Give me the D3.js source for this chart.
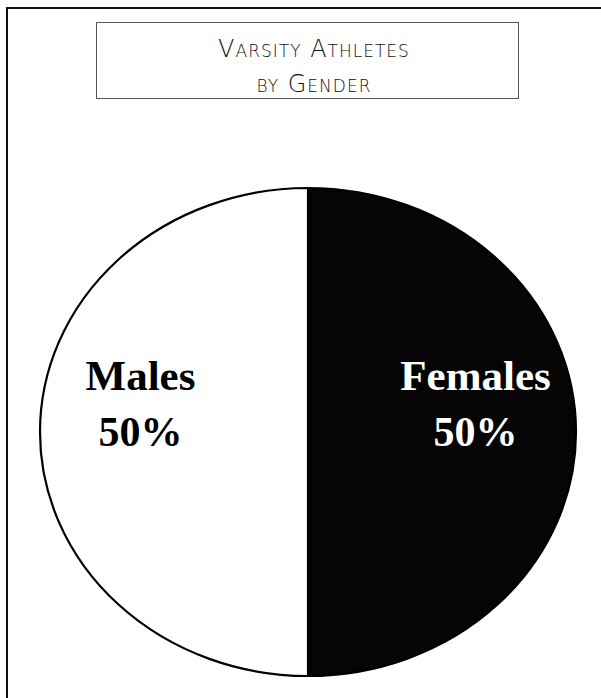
<!DOCTYPE html>
<html>
<head>
<meta charset="utf-8">
<script src="https://cdn.jsdelivr.net/npm/d3@7"></script>
<style>
  body { margin: 0; background: #fff; }
  svg { display: block; }
  .title { font-family: "DejaVu Sans", sans-serif; font-weight: 200; font-variant: small-caps; fill: #111; }
  .lbl-name { font-family: "Liberation Serif", serif; font-weight: bold; }
  .lbl-pct { font-family: "Liberation Serif", serif; font-weight: bold; }
</style>
</head>
<body>
<script>
// chart data
var categories = ['Females', 'Males'];
var shares = [50, 50];
var sliceColors = ['#050505', '#ffffff'];
var labelColors = ['#ffffff', '#000000'];
var titleLines = ['Varsity Athletes', 'by Gender'];

var W = 601, H = 698;
var svg = d3.select('body').append('svg').attr('width', W).attr('height', H);

// outer frame (top + left only, rest is cropped off)
svg.append('path')
  .attr('d', 'M7,698 L7,8 L601,8')
  .attr('fill', 'none').attr('stroke', '#111').attr('stroke-width', 2);

// title box
svg.append('rect')
  .attr('x', 96.5).attr('y', 22.5).attr('width', 422).attr('height', 76)
  .attr('fill', 'none').attr('stroke', '#555').attr('stroke-width', 1);

svg.selectAll('.title').data(titleLines).enter().append('text')
  .attr('class', 'title')
  .attr('x', 314)
  .attr('y', function(d, i){ return 57 + i*35; })
  .attr('text-anchor', 'middle')
  .attr('font-size', 24)
  .attr('letter-spacing', 1)
  .text(function(d){ return d; });

// pie (drawn as a circle, squashed vertically)
var cx = 308, cy = 432, rx = 268, ry = 244;
var pie = d3.pie().sort(null).value(function(d){ return d; });
var arcs = pie(shares);
var arc = d3.arc().innerRadius(0).outerRadius(rx);
var labelArc = d3.arc().innerRadius(0).outerRadius(rx*1.25);

var g = svg.append('g').attr('transform', 'translate(' + cx + ',' + cy + ')');
g.append('g').attr('transform', 'scale(1,' + (ry/rx) + ')')
  .selectAll('path').data(arcs).enter().append('path')
  .attr('d', arc)
  .attr('fill', function(d, i){ return sliceColors[i]; })
  .attr('stroke', '#000')
  .attr('stroke-width', 2.2)
  .attr('vector-effect', 'non-scaling-stroke');

var lbl = g.selectAll('.lbl').data(arcs).enter().append('g')
  .attr('class', 'lbl')
  .attr('transform', function(d){
    var c = labelArc.centroid(d);
    return 'translate(' + c[0] + ',' + (-27) + ')';
  });

lbl.append('text')
  .attr('class', 'lbl-name')
  .attr('text-anchor', 'middle')
  .attr('y', -15)
  .attr('font-size', 43)
  .attr('fill', function(d, i){ return labelColors[i]; })
  .text(function(d, i){ return categories[i]; });

lbl.append('text')
  .attr('class', 'lbl-pct')
  .attr('text-anchor', 'middle')
  .attr('y', 41)
  .attr('font-size', 42)
  .attr('fill', function(d, i){ return labelColors[i]; })
  .text(function(d){ return d.data + '%'; });
</script>
</body>
</html>
